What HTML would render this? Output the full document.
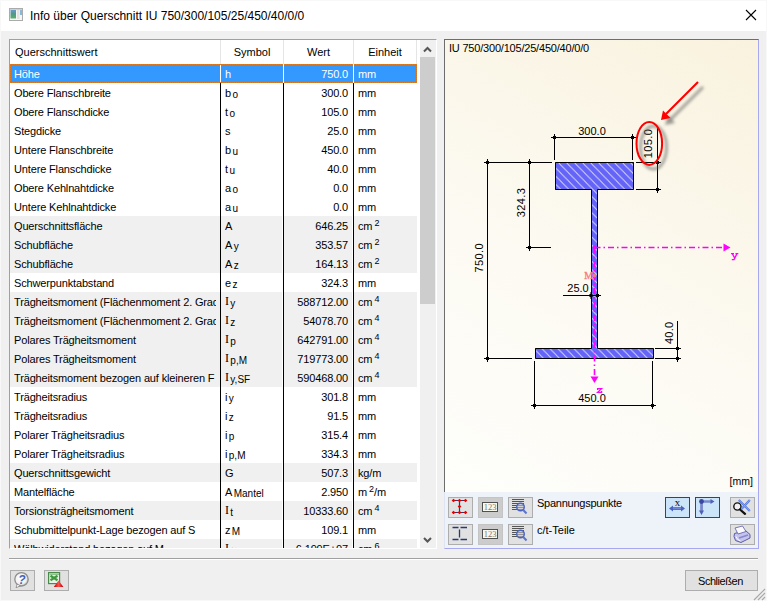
<!DOCTYPE html>
<html><head><meta charset="utf-8">
<style>
*{box-sizing:border-box}
html,body{margin:0;padding:0}
body{width:767px;height:601px;overflow:hidden;position:relative;background:#f0f0f0;font-family:"Liberation Sans",sans-serif;font-size:11px;color:#000}
.abs{position:absolute}
#win{position:absolute;left:0;top:0;width:767px;height:601px;border:1px solid #f8f8f8}
#title{position:absolute;left:1px;top:1px;width:765px;height:30px;background:#fff}
#title .t{position:absolute;left:29px;top:7px;font-size:12px;line-height:16px;white-space:nowrap;color:#000}
#tbl{position:absolute;left:9px;top:39px;width:428px;height:510px;background:#fff;border-top:1px solid #a0a0a0;border-left:1px solid #a0a0a0;border-right:1px solid #fff;border-bottom:1px solid #fff;overflow:hidden;letter-spacing:-0.15px}
#hdr{position:absolute;left:0;top:0;width:407px;height:24px;background:#fff;letter-spacing:0}
#hdr div{position:absolute;top:0;height:24px;line-height:25px;white-space:nowrap;border-right:1px solid #e5e5e5}
.r{position:absolute;left:0;width:407px;height:19px;line-height:21px;white-space:nowrap}
.r div{position:absolute;top:0;height:19px;overflow:hidden}
.r.g .c1,.r.g .c2,.r.g .c3,.r.g .c4{background:#f0f0f0}
.c1{left:0;width:210px;padding-left:4px}
.cl{display:inline-block;width:202px;overflow:hidden;vertical-align:top}
.c2{left:211px;width:61px;padding-left:4px}
.c3{left:274px;width:68px;text-align:right;padding-right:4px}
.c4{left:344px;width:63px;padding-left:4px}
.vl{position:absolute;width:1px;background:#000}
.r.sel{background:#3399ff;color:#fff}
.r.sel div{background:#3399ff}
#focus{position:absolute;left:0;top:24px;width:407px;height:19px;border:1px dotted #e07a1f}
sub{font-size:10px;vertical-align:baseline;position:relative;top:0.5px;margin-left:1.5px;letter-spacing:0}
sup{font-size:9px;vertical-align:baseline;position:relative;top:-4px;margin-left:2px;letter-spacing:0}
.ser{font-family:"Liberation Serif",serif;font-size:12px;position:relative;top:-1px}
#sb{position:absolute;left:410px;top:0;width:16px;height:509px;background:#f0f0f0}
#cv{position:absolute;left:444px;top:39px;width:315px;height:453px;border-top:1px solid #6d6d6d;border-left:1px solid #6d6d6d;border-right:1px solid #a8a8f0;background:linear-gradient(30deg,#fefefb 0%,#fcfaf2 45%,#f9f2de 100%)}
#tb{position:absolute;left:444px;top:492px;width:315px;height:57px;background:#eef2f9;border-left:1px solid #dde4f2;border-right:1px solid #a8a8f0;border-bottom:1px solid #a8a8f0}
.btn{position:absolute;width:25px;height:21px;background:#e1e1e1;border:1px solid #adadad}
.btn.dis{background:#cccccc;border-color:#c4c4c4}
.btn.on{background:#cce4f7;border-color:#005499}
.btn svg{position:absolute;left:-1px;top:-1px}
#sep{position:absolute;left:9px;top:558px;width:749px;height:2px;border-top:1px solid #a0a0a0;border-bottom:1px solid #fff}
.lbl{position:absolute;white-space:nowrap;line-height:13px}
</style></head><body>
<div id="win"></div>
<div id="title">
 <svg class="abs" style="left:7px;top:6px" width="16" height="14" viewBox="0 0 16 14">
  <defs><linearGradient id="ig" x1="0" y1="0" x2="0" y2="1"><stop offset="0" stop-color="#6a98d0"/><stop offset="0.45" stop-color="#4f9a88"/><stop offset="1" stop-color="#5aae6a"/></linearGradient></defs>
  <rect x="1.5" y="1.5" width="13" height="12" fill="#f6f6f6" stroke="#ababab"/>
  <rect x="2.5" y="3" width="5.5" height="8.5" fill="url(#ig)"/>
  <rect x="9" y="3" width="2.5" height="9" fill="#e2e2e2"/>
  <rect x="12" y="3" width="2" height="5" fill="#8ab8d8"/>
  <rect x="2" y="2" width="12" height="1" fill="#d0d0d0"/>
 </svg>
 <div class="t">Info über Querschnitt IU 750/300/105/25/450/40/0/0</div>
 <svg class="abs" style="left:743px;top:7px" width="14" height="14" viewBox="0 0 14 14"><path d="M2 2L12 12M12 2L2 12" stroke="#000" stroke-width="1.1"/></svg>
</div>

<div id="tbl">
 <div id="hdr">
  <div style="left:0;width:211px;padding-left:5px">Querschnittswert</div>
  <div style="left:211px;width:63px;text-align:center">Symbol</div>
  <div style="left:274px;width:70px;text-align:center">Wert</div>
  <div style="left:344px;width:63px;text-align:center">Einheit</div>
 </div>
<div class="r sel" style="top:24px"><div class="c1"><span class="cl">Höhe</span></div><div class="c2">h</div><div class="c3">750.0</div><div class="c4">mm</div></div>
<div class="r" style="top:43px"><div class="c1"><span class="cl">Obere Flanschbreite</span></div><div class="c2">b<sub>o</sub></div><div class="c3">300.0</div><div class="c4">mm</div></div>
<div class="r" style="top:62px"><div class="c1"><span class="cl">Obere Flanschdicke</span></div><div class="c2">t<sub>o</sub></div><div class="c3">105.0</div><div class="c4">mm</div></div>
<div class="r" style="top:81px"><div class="c1"><span class="cl">Stegdicke</span></div><div class="c2">s</div><div class="c3">25.0</div><div class="c4">mm</div></div>
<div class="r" style="top:100px"><div class="c1"><span class="cl">Untere Flanschbreite</span></div><div class="c2">b<sub>u</sub></div><div class="c3">450.0</div><div class="c4">mm</div></div>
<div class="r" style="top:119px"><div class="c1"><span class="cl">Untere Flanschdicke</span></div><div class="c2">t<sub>u</sub></div><div class="c3">40.0</div><div class="c4">mm</div></div>
<div class="r" style="top:138px"><div class="c1"><span class="cl">Obere Kehlnahtdicke</span></div><div class="c2">a<sub>o</sub></div><div class="c3">0.0</div><div class="c4">mm</div></div>
<div class="r" style="top:157px"><div class="c1"><span class="cl">Untere Kehlnahtdicke</span></div><div class="c2">a<sub>u</sub></div><div class="c3">0.0</div><div class="c4">mm</div></div>
<div class="r g" style="top:176px"><div class="c1"><span class="cl">Querschnittsfläche</span></div><div class="c2">A</div><div class="c3">646.25</div><div class="c4">cm<sup>2</sup></div></div>
<div class="r g" style="top:195px"><div class="c1"><span class="cl">Schubfläche</span></div><div class="c2">A<sub>y</sub></div><div class="c3">353.57</div><div class="c4">cm<sup>2</sup></div></div>
<div class="r g" style="top:214px"><div class="c1"><span class="cl">Schubfläche</span></div><div class="c2">A<sub>z</sub></div><div class="c3">164.13</div><div class="c4">cm<sup>2</sup></div></div>
<div class="r" style="top:233px"><div class="c1"><span class="cl">Schwerpunktabstand</span></div><div class="c2">e<sub>z</sub></div><div class="c3">324.3</div><div class="c4">mm</div></div>
<div class="r g" style="top:252px"><div class="c1"><span class="cl">Trägheitsmoment (Flächenmoment 2. Grad</span></div><div class="c2"><span class="ser">I</span><sub>y</sub></div><div class="c3">588712.00</div><div class="c4">cm<sup>4</sup></div></div>
<div class="r g" style="top:271px"><div class="c1"><span class="cl">Trägheitsmoment (Flächenmoment 2. Grad</span></div><div class="c2"><span class="ser">I</span><sub>z</sub></div><div class="c3">54078.70</div><div class="c4">cm<sup>4</sup></div></div>
<div class="r g" style="top:290px"><div class="c1"><span class="cl">Polares Trägheitsmoment</span></div><div class="c2"><span class="ser">I</span><sub>p</sub></div><div class="c3">642791.00</div><div class="c4">cm<sup>4</sup></div></div>
<div class="r g" style="top:309px"><div class="c1"><span class="cl">Polares Trägheitsmoment</span></div><div class="c2"><span class="ser">I</span><sub>p,M</sub></div><div class="c3">719773.00</div><div class="c4">cm<sup>4</sup></div></div>
<div class="r g" style="top:328px"><div class="c1"><span class="cl">Trägheitsmoment bezogen auf kleineren F</span></div><div class="c2"><span class="ser">I</span><sub>y,SF</sub></div><div class="c3">590468.00</div><div class="c4">cm<sup>4</sup></div></div>
<div class="r" style="top:347px"><div class="c1"><span class="cl">Trägheitsradius</span></div><div class="c2">i<sub>y</sub></div><div class="c3">301.8</div><div class="c4">mm</div></div>
<div class="r" style="top:366px"><div class="c1"><span class="cl">Trägheitsradius</span></div><div class="c2">i<sub>z</sub></div><div class="c3">91.5</div><div class="c4">mm</div></div>
<div class="r" style="top:385px"><div class="c1"><span class="cl">Polarer Trägheitsradius</span></div><div class="c2">i<sub>p</sub></div><div class="c3">315.4</div><div class="c4">mm</div></div>
<div class="r" style="top:404px"><div class="c1"><span class="cl">Polarer Trägheitsradius</span></div><div class="c2">i<sub>p,M</sub></div><div class="c3">334.3</div><div class="c4">mm</div></div>
<div class="r g" style="top:423px"><div class="c1"><span class="cl">Querschnittsgewicht</span></div><div class="c2">G</div><div class="c3">507.3</div><div class="c4">kg/m</div></div>
<div class="r" style="top:442px"><div class="c1"><span class="cl">Mantelfläche</span></div><div class="c2">A<sub>Mantel</sub></div><div class="c3">2.950</div><div class="c4">m<sup>2</sup>/m</div></div>
<div class="r g" style="top:461px"><div class="c1"><span class="cl">Torsionsträgheitsmoment</span></div><div class="c2"><span class="ser">I</span><sub>t</sub></div><div class="c3">10333.60</div><div class="c4">cm<sup>4</sup></div></div>
<div class="r" style="top:480px"><div class="c1"><span class="cl">Schubmittelpunkt-Lage bezogen auf S</span></div><div class="c2">z<sub>M</sub></div><div class="c3">109.1</div><div class="c4">mm</div></div>
<div class="r g" style="top:499px"><div class="c1"><span class="cl">Wölbwiderstand bezogen auf M</span></div><div class="c2"><span class="ser">I</span><sub>ω</sub></div><div class="c3">6.199E+07</div><div class="c4">cm<sup>6</sup></div></div>
 <div class="vl" style="left:210px;top:43px;height:470px"></div>
 <div class="vl" style="left:273px;top:43px;height:470px"></div>
 <div class="vl" style="left:343px;top:43px;height:470px"></div>
 <div class="vl" style="left:210px;top:24px;height:19px;background:#fff"></div>
 <div class="vl" style="left:273px;top:24px;height:19px;background:#fff"></div>
 <div class="vl" style="left:343px;top:24px;height:19px;background:#fff"></div>
 <div id="focus"></div>
 <div id="sb">
  <svg class="abs" style="left:0;top:0" width="16" height="509">
   <rect x="0" y="17" width="15" height="247" fill="#cdcdcd"/>
   <path d="M4 11.5L7.5 8L11 11.5" fill="none" stroke="#555" stroke-width="2"/>
   <path d="M4 498L7.5 501.5L11 498" fill="none" stroke="#555" stroke-width="2"/>
  </svg>
 </div>
</div>

<div id="cv"></div>
<div id="tb"></div>

<svg class="abs" style="left:0;top:0" width="767" height="601" viewBox="0 0 767 601">
 <defs>
  <pattern id="hA" patternUnits="userSpaceOnUse" width="8" height="8.11" patternTransform="translate(6 0)">
   <rect width="8" height="8.11" fill="#6464f8"/>
   <path d="M-1 -1.014L9 9.124M-9 -1.014L1 9.124M7 -1.014L17 9.124" stroke="#d0d0ff" stroke-width="1"/>
  </pattern>
  <filter id="sh" x="-50%" y="-50%" width="200%" height="200%"><feGaussianBlur stdDeviation="1.6"/></filter>
 </defs>
 <text x="449" y="52" font-family="Liberation Sans" font-size="11" letter-spacing="-0.2">IU 750/300/105/25/450/40/0/0</text>
 <rect x="555" y="162" width="79" height="28" fill="url(#hA)"/>
 <rect x="591" y="189" width="7" height="160" fill="url(#hA)"/>
 <rect x="535" y="348" width="119" height="11" fill="url(#hA)"/>
 <path d="M555.5 162.5H633.5V189.5H597.5V348.5H653.5V358.5H535.5V348.5H591.5V189.5H555.5Z" fill="none" stroke="#000" stroke-width="1"/>
 <g stroke="#000" stroke-width="1" fill="none"><path d="M554 137.5L633 137.5"/><path d="M554.5 137L554.5 160"/><path d="M632.5 137L632.5 160"/><path d="M657.5 127L657.5 190"/><path d="M636 162.5L660 162.5"/><path d="M636 189.5L660 189.5"/><path d="M487.5 162L487.5 359"/><path d="M484 162.5L552 162.5"/><path d="M484 358.5L532 358.5"/><path d="M529.5 162L529.5 248"/><path d="M527 247.5L551 247.5"/><path d="M563 295.5L600 295.5"/><path d="M677.5 321L677.5 359"/><path d="M655 348.5L680 348.5"/><path d="M655 358.5L680 358.5"/><path d="M534 405.5L653 405.5"/><path d="M534.5 361L534.5 406"/><path d="M652.5 361L652.5 406"/></g>
 <g fill="#000"><rect x="553.0" y="136.0" width="3" height="3"/><path d="M551.0 137.5H558.0M554.5 134.0V141.0" stroke="#000" stroke-width="1"/><path d="M552.5 137.5L554.5 135.5L556.5 137.5L554.5 139.5Z"/><rect x="631.0" y="136.0" width="3" height="3"/><path d="M629.0 137.5H636.0M632.5 134.0V141.0" stroke="#000" stroke-width="1"/><path d="M630.5 137.5L632.5 135.5L634.5 137.5L632.5 139.5Z"/><rect x="656.0" y="161.0" width="3" height="3"/><path d="M654.0 162.5H661.0M657.5 159.0V166.0" stroke="#000" stroke-width="1"/><path d="M655.5 162.5L657.5 160.5L659.5 162.5L657.5 164.5Z"/><rect x="656.0" y="188.0" width="3" height="3"/><path d="M654.0 189.5H661.0M657.5 186.0V193.0" stroke="#000" stroke-width="1"/><path d="M655.5 189.5L657.5 187.5L659.5 189.5L657.5 191.5Z"/><rect x="486.0" y="161.0" width="3" height="3"/><path d="M484.0 162.5H491.0M487.5 159.0V166.0" stroke="#000" stroke-width="1"/><path d="M485.5 162.5L487.5 160.5L489.5 162.5L487.5 164.5Z"/><rect x="486.0" y="357.0" width="3" height="3"/><path d="M484.0 358.5H491.0M487.5 355.0V362.0" stroke="#000" stroke-width="1"/><path d="M485.5 358.5L487.5 356.5L489.5 358.5L487.5 360.5Z"/><rect x="528.0" y="161.0" width="3" height="3"/><path d="M526.0 162.5H533.0M529.5 159.0V166.0" stroke="#000" stroke-width="1"/><path d="M527.5 162.5L529.5 160.5L531.5 162.5L529.5 164.5Z"/><rect x="528.0" y="246.0" width="3" height="3"/><path d="M526.0 247.5H533.0M529.5 244.0V251.0" stroke="#000" stroke-width="1"/><path d="M527.5 247.5L529.5 245.5L531.5 247.5L529.5 249.5Z"/><rect x="589.5" y="294.0" width="3" height="3"/><path d="M587.5 295.5H594.5M591 292.0V299.0" stroke="#000" stroke-width="1"/><path d="M589 295.5L591 293.5L593 295.5L591 297.5Z"/><rect x="596.0" y="294.0" width="3" height="3"/><path d="M594.0 295.5H601.0M597.5 292.0V299.0" stroke="#000" stroke-width="1"/><path d="M595.5 295.5L597.5 293.5L599.5 295.5L597.5 297.5Z"/><rect x="676.0" y="347.0" width="3" height="3"/><path d="M674.0 348.5H681.0M677.5 345.0V352.0" stroke="#000" stroke-width="1"/><path d="M675.5 348.5L677.5 346.5L679.5 348.5L677.5 350.5Z"/><rect x="676.0" y="357.0" width="3" height="3"/><path d="M674.0 358.5H681.0M677.5 355.0V362.0" stroke="#000" stroke-width="1"/><path d="M675.5 358.5L677.5 356.5L679.5 358.5L677.5 360.5Z"/><rect x="533.0" y="404.0" width="3" height="3"/><path d="M531.0 405.5H538.0M534.5 402.0V409.0" stroke="#000" stroke-width="1"/><path d="M532.5 405.5L534.5 403.5L536.5 405.5L534.5 407.5Z"/><rect x="651.0" y="404.0" width="3" height="3"/><path d="M649.0 405.5H656.0M652.5 402.0V409.0" stroke="#000" stroke-width="1"/><path d="M650.5 405.5L652.5 403.5L654.5 405.5L652.5 407.5Z"/></g>
 <g font-family="Liberation Sans" font-size="11" fill="#000">
  <text x="592" y="134.5" text-anchor="middle">300.0</text>
  <text x="578" y="292" text-anchor="middle">25.0</text>
  <text x="592" y="401.5" text-anchor="middle">450.0</text>
  <text transform="translate(652 143.5) rotate(-90)" text-anchor="middle" letter-spacing="0.4">105.0</text>
  <text transform="translate(482.8 257.8) rotate(-90)" text-anchor="middle" letter-spacing="0.4">750.0</text>
  <text transform="translate(525.2 202.5) rotate(-90)" text-anchor="middle" letter-spacing="0.4">324.3</text>
  <text transform="translate(672.6 332.8) rotate(-90)" text-anchor="middle" letter-spacing="0.3">40.0</text>
 </g>
 <text x="729.5" y="485" font-family="Liberation Sans" font-size="10.5">[mm]</text>
 <!-- axes -->
 <g stroke="#ff00ff" stroke-width="1.6" fill="none">
  <path d="M594.5 247.5H723" stroke-dasharray="6 3 1.5 3"/>
  <path d="M594.5 247.5V377" stroke-dasharray="6 3 1.5 3"/>
 </g>
 <g fill="#ff00ff">
  <path d="M723.5 243.5L730.5 247.5L723.5 251.5Z"/>
  <path d="M590.5 376.5L598.5 376.5L594.5 383Z"/>
  <circle cx="594.5" cy="247.5" r="1.9"/>
  </g><g stroke="#ff00ff" stroke-width="1.3" fill="none"><path d="M731 253.6H734M735.5 253.6H738.3M732.3 253.6L734.6 258M737 253.6L734 259.6H731.8"/>
  <path d="M597.6 390V388.6H601.6L597.6 392.4H601.6V391"/>
 </g>
 <g fill="#f87878">
  <circle cx="594.5" cy="275.5" r="1.9"/>
  <text x="584.3" y="279" font-family="Liberation Serif" font-size="10" stroke="#f87878" stroke-width="0.3">M</text>
 </g>
 <!-- annotation shadows -->
 <g stroke="#606060" stroke-width="2.8" fill="none" opacity="0.6" filter="url(#sh)">
  <ellipse cx="653.5" cy="147.5" rx="13" ry="21.5"/>
  <path d="M703 87L670 120"/>
 </g>
 <path d="M665 125L675 123L668 115Z" fill="#606060" opacity="0.6" filter="url(#sh)"/>
 <ellipse cx="649.3" cy="143.4" rx="12.8" ry="21.5" stroke="#ff0000" stroke-width="2" fill="none"/>
 <path d="M698 82L666 114" stroke="#ff0000" stroke-width="2.2"/>
 <path d="M661 120L663 110.5L670.5 118Z" fill="#ff0000"/>
</svg>

<!-- toolbar -->
<div class="btn" style="left:448px;top:497px">
 <svg width="25" height="21" viewBox="0 0 25 21">
  <path d="M5.5 3.5H17.5M11.5 3.5V15.5M5.5 15.5H17.5" stroke="#2a3770" stroke-width="1.2" fill="none"/>
  <g fill="#e00000"><path d="M3.7 3.5L5.5 1.7L7.3 3.5L5.5 5.3Z"/><path d="M9.7 3.5L11.5 1.7L13.3 3.5L11.5 5.3Z"/><path d="M15.7 3.5L17.5 1.7L19.3 3.5L17.5 5.3Z"/><path d="M9.7 9.5L11.5 7.7L13.3 9.5L11.5 11.3Z"/><path d="M3.7 15.5L5.5 13.7L7.3 15.5L5.5 17.3Z"/><path d="M9.7 15.5L11.5 13.7L13.3 15.5L11.5 17.3Z"/><path d="M15.7 15.5L17.5 13.7L19.3 15.5L17.5 17.3Z"/></g>
 </svg>
</div>
<div class="btn dis" style="left:478px;top:497px">
 <svg width="25" height="21" viewBox="0 0 25 21">
  <rect x="4.5" y="5.5" width="15" height="9" fill="#f8f8ee" stroke="#505050" stroke-width="1"/>
  <text x="12" y="12.8" text-anchor="middle" font-family="Liberation Serif" font-size="8.5" fill="#777">123</text>
 </svg>
</div>
<div class="btn" style="left:508px;top:497px">
 <svg width="25" height="21" viewBox="0 0 25 21">
  <g stroke="#555" stroke-width="1"><path d="M4 2.5H16M4 4.5H16M4 6.5H16M4 8.5H16M4 10.5H16M4 12.5H16"/></g>
  <circle cx="12.5" cy="10" r="3.8" fill="#c8c8d4" fill-opacity="0.55" stroke="#4a64c0" stroke-width="1.4"/>
  <path d="M15.3 13L18.5 16.5" stroke="#5a74d0" stroke-width="2"/>
 </svg>
</div>
<div class="lbl" style="left:537px;top:497px;letter-spacing:-0.25px">Spannungspunkte</div>
<div class="btn" style="left:448px;top:524px">
 <svg width="25" height="21" viewBox="0 0 25 21">
  <path d="M4.5 3.5H10.5M12.5 3.5H19M11.5 5.5V13.5M4.5 15.5H10.5M12.5 15.5H19" stroke="#2a3770" stroke-width="1.3" fill="none"/>
 </svg>
</div>
<div class="btn dis" style="left:478px;top:524px">
 <svg width="25" height="21" viewBox="0 0 25 21">
  <rect x="4.5" y="5.5" width="15" height="9" fill="#f8f8ee" stroke="#505050" stroke-width="1"/>
  <text x="12" y="12.8" text-anchor="middle" font-family="Liberation Serif" font-size="8.5" fill="#777">123</text>
 </svg>
</div>
<div class="btn" style="left:508px;top:524px">
 <svg width="25" height="21" viewBox="0 0 25 21">
  <g stroke="#555" stroke-width="1"><path d="M4 2.5H16M4 4.5H16M4 6.5H16M4 8.5H16M4 10.5H16M4 12.5H16"/></g>
  <circle cx="12.5" cy="10" r="3.8" fill="#c8c8d4" fill-opacity="0.55" stroke="#4a64c0" stroke-width="1.4"/>
  <path d="M15.3 13L18.5 16.5" stroke="#5a74d0" stroke-width="2"/>
 </svg>
</div>
<div class="lbl" style="left:537px;top:524px">c/t-Teile</div>

<div class="btn on" style="left:665px;top:497px">
 <svg width="25" height="21" viewBox="0 0 25 21">
  <text x="12.5" y="8.5" text-anchor="middle" font-family="Liberation Serif" font-size="11" fill="#111">x</text>
  <path d="M6.5 11.5H17.5" stroke="#3a50a8" stroke-width="2.6"/>
  <path d="M6.5 11.2H17.5" stroke="#8aa0f0" stroke-width="1"/>
  <path d="M4 11.5L8 8.5V14.5Z M20 11.5L16 8.5V14.5Z" fill="#4a62c0"/>
 </svg>
</div>
<div class="btn on" style="left:695px;top:497px">
 <svg width="25" height="21" viewBox="0 0 25 21">
  <path d="M6.5 4.5H16.5M6.5 4.5V14.5" stroke="#4a5ab0" stroke-width="2.2"/>
  <path d="M6.5 4.2H16.5M6.2 4.5V14.5" stroke="#a0b0f0" stroke-width="0.8"/>
  <path d="M19.5 4.5L15.5 2V7Z M6.5 18L4 13.5H9Z" fill="#5060b8"/>
  <circle cx="6.5" cy="4.5" r="2.4" fill="#3a48a0"/>
 </svg>
</div>
<div class="btn" style="left:730px;top:497px">
 <svg width="25" height="21" viewBox="0 0 25 21">
  <circle cx="7.4" cy="9.5" r="3.6" fill="#f0f0f0" stroke="#111" stroke-width="1.4"/>
  <path d="M10 12.5L15 16.8" stroke="#111" stroke-width="2.3" stroke-linecap="round"/>
  <path d="M8.8 3L19.8 14M19.8 3L11.5 12" stroke="#5a7ce0" stroke-width="2.2"/>
  <path d="M8.8 3L19.8 14M19.8 3L11.5 12" stroke="#9ab4ff" stroke-width="0.7"/>
 </svg>
</div>
<div class="btn" style="left:730px;top:524px">
 <svg width="25" height="21" viewBox="0 0 25 21">
  <path d="M4.5 9.5L15.5 6.5L20 10.5V14L11 18.5L5.5 16.5L4 12.5Z" fill="#c4c4ee" stroke="#5a5aa8" stroke-width="1"/>
  <path d="M5 4L12.5 2L16 7.5L8 10Z" fill="#fbfbff" stroke="#6a6ab0" stroke-width="0.9"/>
  <path d="M9 14L18 11" stroke="#8888cc" stroke-width="1.4"/>
  <path d="M6 12.5Q7 16 10.5 17" stroke="#ffffff" stroke-width="1" fill="none"/>
 </svg>
</div>

<div id="sep"></div>

<div class="btn" style="left:10px;top:570px;height:21px">
 <svg width="25" height="21" viewBox="0 0 25 21">
  <defs><radialGradient id="hb" cx="0.45" cy="0.45" r="0.6"><stop offset="0" stop-color="#ffffff"/><stop offset="0.65" stop-color="#f2f2f2"/><stop offset="1" stop-color="#b0b0b0"/></radialGradient></defs>
  <path d="M7.5 14L6 17.5L11 15.8Z" fill="#f4f4f4" stroke="#8a8a8a" stroke-width="1"/>
  <circle cx="11.5" cy="9.3" r="6.7" fill="url(#hb)" stroke="#8e8e8e" stroke-width="1.3"/>
  <path d="M7.5 14.8L6.6 17L9.5 15.5Z" fill="#f8f8f8"/>
  <text x="11.8" y="13.6" text-anchor="middle" font-family="Liberation Sans" font-weight="bold" font-style="italic" font-size="12" fill="#4462b8">?</text>
 </svg>
</div>
<div class="btn" style="left:44px;top:570px;height:21px">
 <svg width="25" height="21" viewBox="0 0 25 21">
  <defs><linearGradient id="tg" x1="0" y1="0" x2="1" y2="0"><stop offset="0" stop-color="#b80000"/><stop offset="0.5" stop-color="#ff5050"/><stop offset="1" stop-color="#b80000"/></linearGradient></defs>
  <rect x="4.6" y="2.6" width="11" height="11" fill="#e8f2e8" stroke="#4a8a4a" stroke-width="1.2"/>
  <rect x="5.5" y="3.5" width="9.5" height="1.5" fill="#8fc08f"/>
  <path d="M6.5 5.8L13.5 10.2M13.5 5.8L6.5 10.2" stroke="#3f9a3f" stroke-width="2.3"/>
  <path d="M14.6 10.6L19.4 17H9.8Z" fill="url(#tg)"/>
 </svg>
</div>
<div class="btn" style="left:685px;top:570px;width:73px;height:21px">
 <div class="lbl" style="left:12px;top:4px;letter-spacing:-0.45px">Schließen</div>
</div>
<svg class="abs" style="left:752px;top:587px" width="14" height="14" viewBox="0 0 14 14">
 <path d="M13 2L2 13M13 6L6 13M13 10L10 13" stroke="#a8a8a8" stroke-width="1.2"/>
</svg>
</body></html>
